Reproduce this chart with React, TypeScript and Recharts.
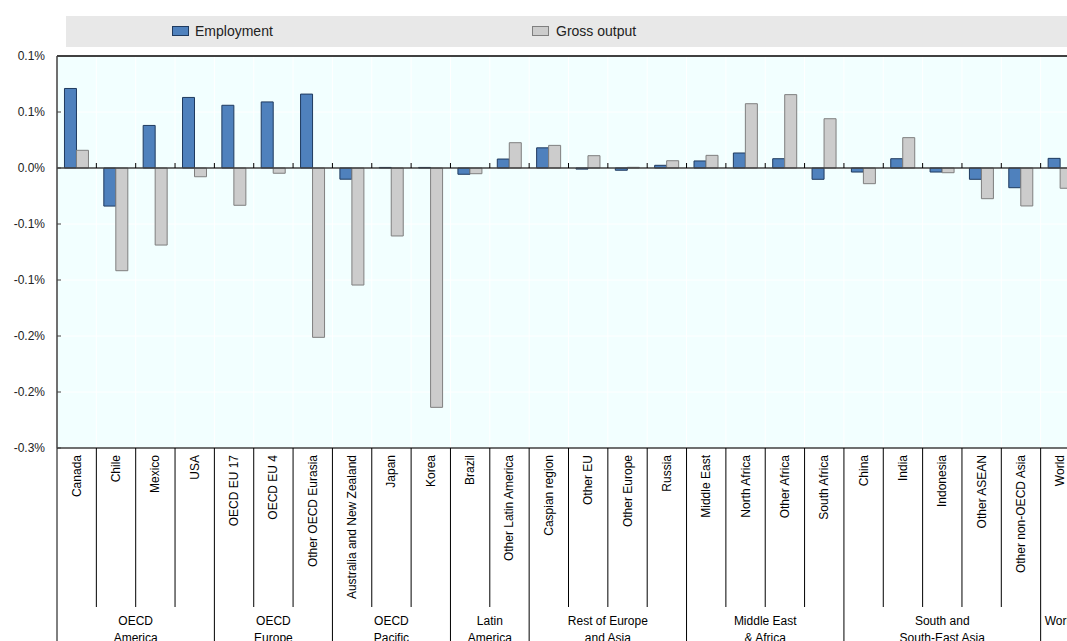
import { Bar, BarChart, CartesianGrid, ReferenceLine, XAxis, YAxis } from 'recharts';

const categories = [
  'Canada', 'Chile', 'Mexico', 'USA',
  'OECD EU 17', 'OECD EU 4', 'Other OECD Eurasia',
  'Australia and New Zealand', 'Japan', 'Korea',
  'Brazil', 'Other Latin America',
  'Caspian region', 'Other EU', 'Other Europe', 'Russia',
  'Middle East', 'North Africa', 'Other Africa', 'South Africa',
  'China', 'India', 'Indonesia', 'Other ASEAN', 'Other non-OECD Asia',
  'World',
];

// % change
const employment = [
  0.071, -0.034, 0.038, 0.063,
  0.056, 0.059, 0.066,
  -0.010, 0.0005, 0.0005,
  -0.0056, 0.008,
  0.018, -0.001, -0.002, 0.0024,
  0.0063, 0.0134, 0.0083, -0.0101,
  -0.0036, 0.0083, -0.0036, -0.0101, -0.0176,
  0.0086,
];

const grossOutput = [
  0.0158, -0.0917, -0.0688, -0.0078,
  -0.0333, -0.0047, -0.1512,
  -0.1045, -0.0607, -0.2137,
  -0.0051, 0.0226,
  0.0202, 0.011, 0.0006, 0.0065,
  0.0113, 0.0574, 0.0655, 0.044,
  -0.014, 0.0271, -0.0042, -0.0274, -0.0339,
  -0.0181,
];

const groupLabels = [
  ['OECD', 'America'],
  ['OECD', 'Europe'],
  ['OECD', 'Pacific'],
  ['Latin', 'America'],
  ['Rest of Europe', 'and Asia'],
  ['Middle East', '& Africa'],
  ['South and', 'South-East Asia'],
  ['World', ''],
];
const groupSizes = [4, 3, 3, 2, 4, 4, 5, 1];

const yTicks = [-0.25, -0.2, -0.15, -0.1, -0.05, 0, 0.05, 0.1];
const yTickLabels = ['-0.3%', '-0.2%', '-0.2%', '-0.1%', '-0.1%', '0.0%', '0.1%', '0.1%'];

const data = categories.map((name, i) => ({
  name,
  employment: employment[i],
  grossOutput: grossOutput[i],
}));

// which group starts at index i / which index ends a group
const groupStartAt: Record<number, number> = {};
const groupEnds = new Set<number>();
{
  let k = 0;
  groupSizes.forEach((size, g) => {
    groupStartAt[k] = g;
    k += size;
    groupEnds.add(k - 1);
  });
}

const FONT = '"Liberation Sans", Arial, sans-serif';
const LINE = '#404040';

const CategoryTick = (props: any) => {
  const { x, y, payload, index, width } = props;
  const half = payload?.offset || width / categories.length / 2;
  const g = groupStartAt[index];
  return (
    <g fontFamily={FONT} fontSize={12} fill="#000">
      <text
        x={x}
        y={y + 7}
        transform={`rotate(-90, ${x}, ${y + 7})`}
        textAnchor="end"
        dominantBaseline="central"
      >
        {payload.value}
      </text>
      {index === 0 && <line x1={x - half} x2={x - half} y1={y} y2={y + 260} stroke="#000" />}
      <line
        x1={x + half}
        x2={x + half}
        y1={y}
        y2={groupEnds.has(index) ? y + 260 : y + 159}
        stroke="#000"
      />
      {g !== undefined && (
        <text x={x + (groupSizes[g] - 1) * half} y={y + 177} textAnchor="middle">
          <tspan x={x + (groupSizes[g] - 1) * half}>{groupLabels[g][0]}</tspan>
          <tspan x={x + (groupSizes[g] - 1) * half} dy={17}>
            {groupLabels[g][1]}
          </tspan>
        </text>
      )}
    </g>
  );
};

const ValueTick = (props: any) => {
  const { x, y, index } = props;
  return (
    <g>
      <text
        x={x - 12}
        y={y}
        textAnchor="end"
        dominantBaseline="central"
        fontFamily={FONT}
        fontSize={12}
        fill="#222"
      >
        {yTickLabels[index]}
      </text>
      <line x1={x} x2={x + 4} y1={y} y2={y} stroke={LINE} />
    </g>
  );
};

// zero line with little ticks at category boundaries
const ZeroLine = (p: any) => {
  const { x1, x2, y1 } = p;
  const step = (x2 - x1) / categories.length;
  return (
    <g>
      <line x1={x1} x2={x2} y1={y1} y2={y1} stroke={LINE} strokeWidth={1.5} />
      {categories.slice(1).map((c, i) => (
        <line
          key={c}
          x1={x1 + (i + 1) * step}
          x2={x1 + (i + 1) * step}
          y1={y1 - 5}
          y2={y1}
          stroke="#000"
          strokeWidth={1}
        />
      ))}
    </g>
  );
};

const Swatch = ({ fill, stroke }: { fill: string; stroke: string }) => (
  <span
    style={{
      display: 'inline-block',
      width: 15,
      height: 8,
      background: fill,
      border: `1px solid ${stroke}`,
    }}
  />
);

export default function App() {
  return (
    <div
      style={{
        position: 'absolute',
        left: 0,
        top: 0,
        width: 1067,
        height: 641,
        overflow: 'hidden',
        background: '#fff',
        fontFamily: FONT,
      }}
    >
      {/* legend band */}
      <div
        style={{
          position: 'absolute',
          left: 66,
          top: 16,
          width: 1020,
          height: 31,
          background: '#E8E8E8',
          fontSize: 14,
          color: '#222',
        }}
      >
        <div style={{ position: 'absolute', left: 106, top: 7, display: 'flex', alignItems: 'center', gap: 6 }}>
          <Swatch fill="#4F81BD" stroke="#1F3A5F" />
          <span>Employment</span>
        </div>
        <div style={{ position: 'absolute', left: 466, top: 7, display: 'flex', alignItems: 'center', gap: 7 }}>
          <Swatch fill="#CCCCCC" stroke="#7F7F7F" />
          <span>Gross output</span>
        </div>
      </div>

      <div style={{ position: 'absolute', left: 0, top: 0 }}>
        <BarChart
          width={1080}
          height={700}
          data={data}
          margin={{ top: 56, right: 0, bottom: 0, left: 0 }}
          barCategoryGap="19%"
          barGap={0}
        >
          <CartesianGrid
            fill="#F2FFFF"
            stroke="#FFFFFF"
            strokeWidth={1}
            verticalCoordinatesGenerator={({ offset }: any) =>
              categories.map((_, i) => offset.left + (i * offset.width) / categories.length)
            }
          />
          <XAxis
            dataKey="name"
            height={252}
            interval={0}
            tickSize={0}
            tickMargin={0}
            axisLine={{ stroke: LINE, strokeWidth: 1.5 }}
            tickLine={false}
            tick={<CategoryTick />}
          />
          <YAxis
            width={57}
            domain={[-0.25, 0.1]}
            ticks={yTicks}
            interval={0}
            tickSize={0}
            tickMargin={0}
            axisLine={{ stroke: LINE, strokeWidth: 1.5 }}
            tickLine={false}
            tick={<ValueTick />}
            allowDataOverflow
          />
          <Bar
            dataKey="employment"
            name="Employment"
            fill="#4F81BD"
            stroke="#1F3A5F"
            strokeWidth={1}
            isAnimationActive={false}
          />
          <Bar
            dataKey="grossOutput"
            name="Gross output"
            fill="#CCCCCC"
            stroke="#7F7F7F"
            strokeWidth={1}
            isAnimationActive={false}
          />
          <ReferenceLine y={0.1} stroke={LINE} strokeWidth={2} />
          <ReferenceLine y={0} shape={<ZeroLine />} />
        </BarChart>
      </div>
    </div>
  );
}
